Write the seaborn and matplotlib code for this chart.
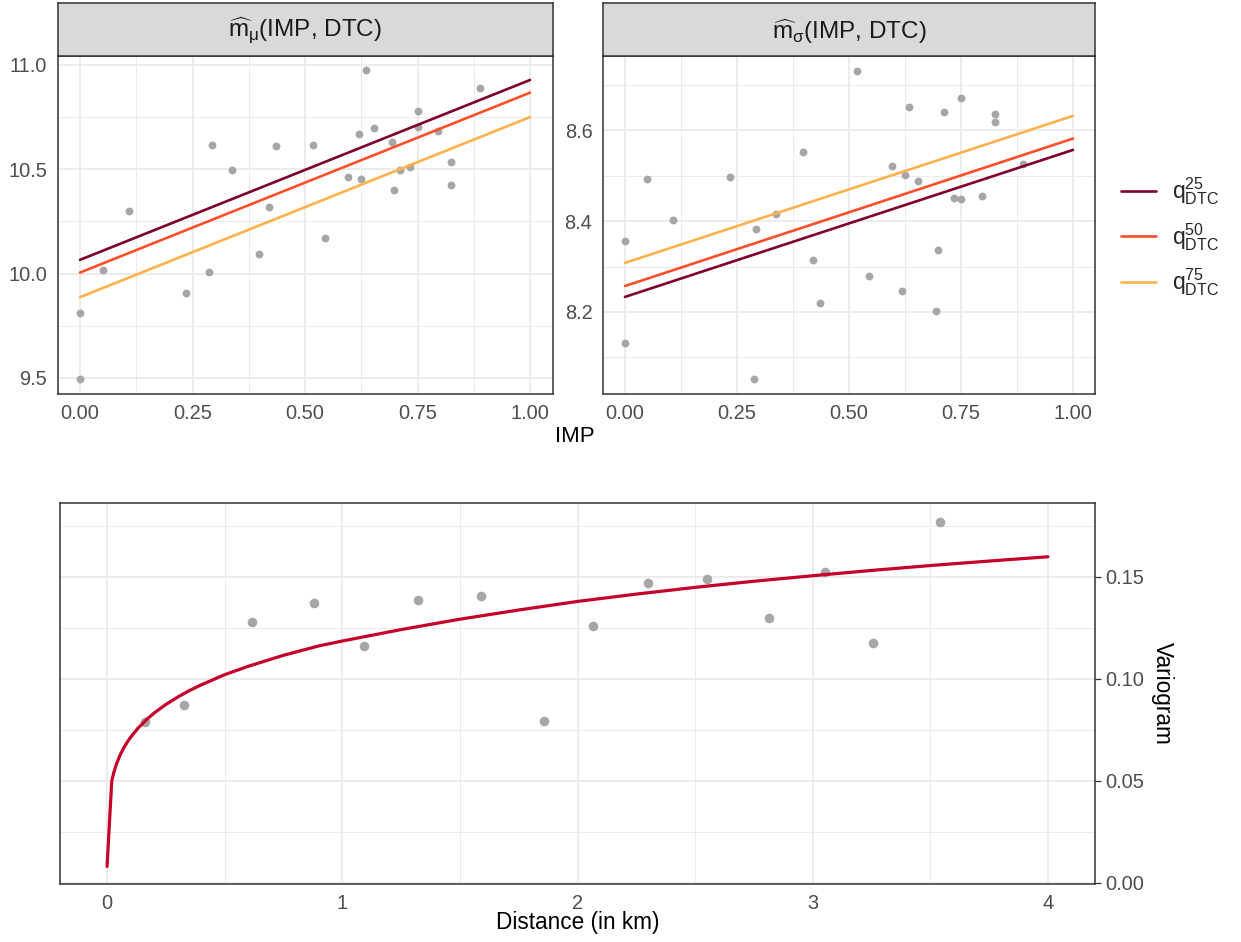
import numpy as np
import pandas as pd
import matplotlib
matplotlib.use("Agg")
import matplotlib.pyplot as plt
from matplotlib.ticker import MultipleLocator
import seaborn as sns

# ---------------- data ----------------
imp = [0.000, 0.000, 0.050, 0.108, 0.235, 0.287, 0.293, 0.337, 0.398, 0.419,
       0.435, 0.518, 0.544, 0.596, 0.619, 0.624, 0.635, 0.653, 0.694, 0.698,
       0.711, 0.734, 0.750, 0.751, 0.796, 0.825, 0.825, 0.888]
m_mu = [9.810, 9.495, 10.017, 10.298, 9.905, 10.008, 10.615, 10.499, 10.093, 10.320,
        10.613, 10.618, 10.173, 10.464, 10.669, 10.453, 10.974, 10.699, 10.632, 10.400,
        10.496, 10.509, 10.778, 10.701, 10.685, 10.533, 10.427, 10.888]
m_sigma = [8.356, 8.132, 8.492, 8.403, 8.497, 8.052, 8.383, 8.416, 8.553, 8.314,
           8.220, 8.731, 8.279, 8.522, 8.247, 8.502, 8.651, 8.488, 8.203, 8.336,
           8.640, 8.452, 8.671, 8.448, 8.455, 8.636, 8.618, 8.527]

line_imp = [0.0, 1.0]
mu_q25 = [10.066, 10.928]
mu_q50 = [10.005, 10.867]
mu_q75 = [9.887, 10.750]
sig_q25 = [8.233, 8.557]
sig_q50 = [8.257, 8.582]
sig_q75 = [8.308, 8.632]

q_labels = [r"$\mathrm{q}^{25}_{\mathrm{DTC}}$",
            r"$\mathrm{q}^{50}_{\mathrm{DTC}}$",
            r"$\mathrm{q}^{75}_{\mathrm{DTC}}$"]
q_colors = ["#800026", "#FC4E2A", "#FEB24C"]

vario_dist = [0.163, 0.329, 0.617, 0.879, 1.093, 1.323, 1.588, 1.857, 2.066,
              2.299, 2.549, 2.813, 3.054, 3.257, 3.543]
vario_val = [0.0790, 0.0874, 0.1277, 0.1372, 0.1162, 0.1386, 0.1405, 0.0795, 0.1262,
             0.1471, 0.1490, 0.1297, 0.1526, 0.1178, 0.1767]

fit_dist = [0.0, 0.02, 0.03, 0.04, 0.055, 0.07, 0.085, 0.1, 0.13, 0.17, 0.2, 0.25,
            0.3, 0.35, 0.4, 0.5, 0.6, 0.75, 0.9, 1.0, 1.25, 1.5, 1.75, 2.0, 2.25,
            2.5, 2.75, 3.0, 3.25, 3.5, 3.75, 4.0]
fit_val = [0.0081, 0.0500, 0.0547, 0.0583, 0.0626, 0.0660, 0.0689, 0.0714, 0.0757,
           0.0803, 0.0833, 0.0875, 0.0911, 0.0943, 0.0971, 0.1021, 0.1062, 0.1116,
           0.1162, 0.1186, 0.1242, 0.1293, 0.1338, 0.1380, 0.1416, 0.1449, 0.1479,
           0.1506, 0.1532, 0.1556, 0.1578, 0.1599]

# ---------------- style ----------------
sns.set_theme(style="white")
plt.rcParams["font.family"] = ["Liberation Sans", "DejaVu Sans"]
plt.rcParams["mathtext.fontset"] = "custom"
plt.rcParams["mathtext.rm"] = "Liberation Sans"
plt.rcParams["mathtext.it"] = "Liberation Sans"
plt.rcParams["mathtext.bf"] = "Liberation Sans:bold"

W, H = 1241, 942
fig = plt.figure(figsize=(W / 100, H / 100), dpi=100)
fig.patch.set_facecolor("white")

def fx(px):
    return px / W

def fy(py):
    return 1 - py / H

def add_ax(l, t, r, b):
    return fig.add_axes([fx(l), fy(b), fx(r) - fx(l), (b - t) / H])

GRID = "#EBEBEB"
BORDER = "#333333"
TICKC = "#4D4D4D"
PTC = "#A6A6A6"

def style_ax(ax, xmaj, xmin, ymaj, ymin):
    ax.set_facecolor("white")
    ax.xaxis.set_major_locator(MultipleLocator(xmaj))
    ax.xaxis.set_minor_locator(MultipleLocator(xmin))
    ax.yaxis.set_major_locator(MultipleLocator(ymaj))
    ax.yaxis.set_minor_locator(MultipleLocator(ymin))
    ax.grid(which="major", color=GRID, linewidth=1.3)
    ax.grid(which="minor", color=GRID, linewidth=0.7)
    ax.set_axisbelow(True)
    for s in ax.spines.values():
        s.set_color(BORDER)
        s.set_linewidth(1.1)
    ax.tick_params(which="major", length=4, width=0.9, color=BORDER,
                   labelsize=14.4, labelcolor=TICKC, pad=3.3)
    ax.tick_params(which="minor", length=0)
    ax.set_xlabel("")
    ax.set_ylabel("")

def add_strip(l, r, text):
    sax = add_ax(l, 3, r, 56)
    sax.set_facecolor("#D9D9D9")
    sax.set_xticks([])
    sax.set_yticks([])
    for s in sax.spines.values():
        s.set_color(BORDER)
        s.set_linewidth(1.1)
    sax.text(0.5, 0.47, text, ha="center", va="center", fontsize=17.5,
             color="#1A1A1A", transform=sax.transAxes)

# ---------------- top left ----------------
df_mu_pts = pd.DataFrame({"IMP": imp, "value": m_mu})
df_mu_lines = pd.DataFrame({
    "IMP": line_imp * 3,
    "value": mu_q25 + mu_q50 + mu_q75,
    "q": [q_labels[0]] * 2 + [q_labels[1]] * 2 + [q_labels[2]] * 2,
})
ax1 = add_ax(57.5, 56, 552.5, 394)
sns.scatterplot(data=df_mu_pts, x="IMP", y="value", color=PTC, s=32,
                linewidth=0, ax=ax1, zorder=2)
sns.lineplot(data=df_mu_lines, x="IMP", y="value", hue="q",
             palette=dict(zip(q_labels, q_colors)), hue_order=q_labels,
             linewidth=1.9, ax=ax1, legend=True, zorder=3)
handles, labels = ax1.get_legend_handles_labels()
ax1.get_legend().remove()
ax1.set_xlim(-0.05, 1.05)
ax1.set_ylim(9.423, 11.043)
style_ax(ax1, 0.25, 0.125, 0.5, 0.25)
ax1.set_xticks([0, 0.25, 0.5, 0.75, 1.0])
ax1.set_xticklabels(["0.00", "0.25", "0.50", "0.75", "1.00"])
ax1.set_yticks([9.5, 10.0, 10.5, 11.0])
ax1.set_yticklabels(["9.5", "10.0", "10.5", "11.0"])
add_strip(57.5, 552.5, r"$\widehat{\mathrm{m}}_{\mu}$(IMP, DTC)")

# ---------------- top right ----------------
df_sig_pts = pd.DataFrame({"IMP": imp, "value": m_sigma})
df_sig_lines = pd.DataFrame({
    "IMP": line_imp * 3,
    "value": sig_q25 + sig_q50 + sig_q75,
    "q": [q_labels[0]] * 2 + [q_labels[1]] * 2 + [q_labels[2]] * 2,
})
ax2 = add_ax(602.6, 56, 1095.4, 394)
sns.scatterplot(data=df_sig_pts, x="IMP", y="value", color=PTC, s=32,
                linewidth=0, ax=ax2, zorder=2)
sns.lineplot(data=df_sig_lines, x="IMP", y="value", hue="q",
             palette=dict(zip(q_labels, q_colors)), hue_order=q_labels,
             linewidth=1.9, ax=ax2, legend=False, zorder=3)
ax2.set_xlim(-0.05, 1.05)
ax2.set_ylim(8.019, 8.764)
style_ax(ax2, 0.25, 0.125, 0.2, 0.1)
ax2.set_xticks([0, 0.25, 0.5, 0.75, 1.0])
ax2.set_xticklabels(["0.00", "0.25", "0.50", "0.75", "1.00"])
ax2.set_yticks([8.2, 8.4, 8.6])
ax2.set_yticklabels(["8.2", "8.4", "8.6"])
add_strip(602.6, 1095.4, r"$\widehat{\mathrm{m}}_{\sigma}$(IMP, DTC)")

fig.text(fx(575), fy(437), "IMP", ha="center", va="center", fontsize=16, color="black")

leg = fig.legend(handles, labels, loc="center left",
                 bbox_to_anchor=(fx(1112), fy(237)), frameon=False,
                 fontsize=16.5, handlelength=1.5, handletextpad=0.7,
                 labelspacing=0.6, borderaxespad=0)

# ---------------- bottom ----------------
df_v = pd.DataFrame({"dist": vario_dist, "gamma": vario_val})
df_fit = pd.DataFrame({"dist": fit_dist, "gamma": fit_val})
ax3 = add_ax(60, 502.5, 1095, 884)
sns.scatterplot(data=df_v, x="dist", y="gamma", color=PTC, s=48,
                linewidth=0, ax=ax3, zorder=2)
sns.lineplot(data=df_fit, x="dist", y="gamma", color="#C4002B",
             linewidth=2.3, ax=ax3, zorder=3, sort=False)
ax3.set_xlim(-0.2, 4.2)
ax3.set_ylim(-0.0005, 0.1865)
style_ax(ax3, 1, 0.5, 0.05, 0.025)
ax3.yaxis.tick_right()
ax3.tick_params(axis="y", which="both", left=False, right=True)
ax3.set_yticks([0, 0.05, 0.10, 0.15])
ax3.set_yticklabels(["0.00", "0.05", "0.10", "0.15"])
ax3.set_xticks([0, 1, 2, 3, 4])
ax3.set_xticklabels(["0", "1", "2", "3", "4"])

fig.text(fx(578), fy(923), "Distance (in km)", ha="center", va="center",
         fontsize=16.3, color="black")
fig.text(fx(1162), fy(693), "Variogram", ha="center", va="center",
         fontsize=16.3, color="black", rotation=270)

fig.savefig("out.png", dpi=100, facecolor="white")
